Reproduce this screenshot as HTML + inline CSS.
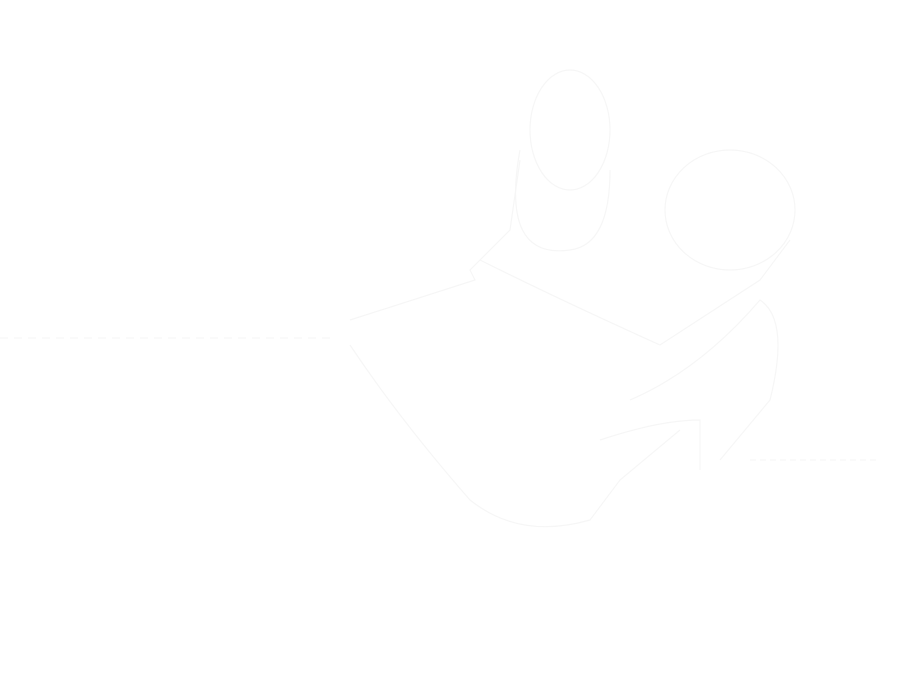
<!DOCTYPE html>
<html><head><meta charset="utf-8"><style>
html,body{margin:0;padding:0;background:#fff;width:900px;height:700px;overflow:hidden}
</style></head><body>
<svg width="900" height="700" xmlns="http://www.w3.org/2000/svg" fill="none" stroke="#f6f6f6" stroke-width="1.2">
<line x1="0" y1="338" x2="330" y2="338" stroke-dasharray="8 6"/>
<ellipse cx="570" cy="130" rx="40" ry="60"/>
<path d="M520 150 Q500 260 570 250 Q610 245 610 170"/>
<ellipse cx="730" cy="210" rx="65" ry="60"/>
<path d="M350 320 L475 280 L470 270 L510 230 L520 160"/>
<path d="M350 345 Q400 420 470 500 Q520 540 590 520 L620 480 L680 430"/>
<path d="M480 260 Q560 300 660 345 L760 280 L790 240"/>
<path d="M630 400 Q700 370 760 300 Q790 320 770 400 L720 460"/>
<line x1="750" y1="460" x2="880" y2="460" stroke-dasharray="6 4"/>
<path d="M600 440 Q660 420 700 420 L700 470"/>
</svg>
</body></html>
